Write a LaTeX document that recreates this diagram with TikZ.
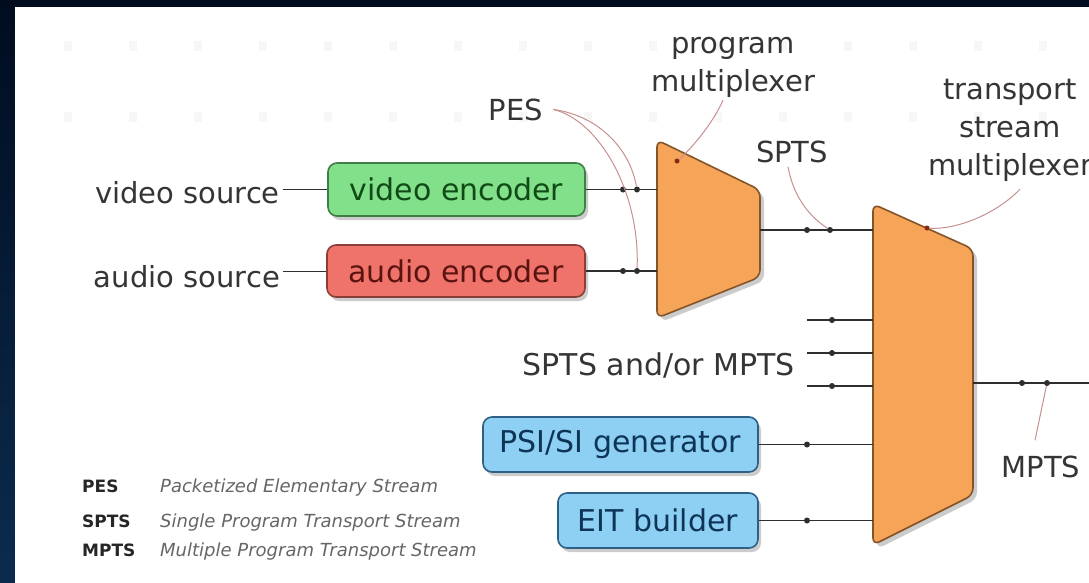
\documentclass[tikz,border=0pt]{standalone}
\usepackage{fontspec}
\setmainfont{DejaVu Sans}
\usetikzlibrary{shadows,calc}
\definecolor{navytop}{HTML}{010C1F}
\definecolor{navybot}{HTML}{0B2B4E}
\definecolor{txtgray}{HTML}{353535}
\definecolor{linegray}{HTML}{2E2E2E}
\definecolor{ptrpink}{HTML}{C79090}
\definecolor{gfill}{HTML}{82E08A}
\definecolor{gdraw}{HTML}{3F7F45}
\definecolor{gtext}{HTML}{124A17}
\definecolor{rfill}{HTML}{F0736B}
\definecolor{rdraw}{HTML}{8A3E38}
\definecolor{rtext}{HTML}{5A1410}
\definecolor{bfill}{HTML}{8ED0F4}
\definecolor{bdraw}{HTML}{2E5F84}
\definecolor{btext}{HTML}{0E3556}
\definecolor{ofill}{HTML}{F5A458}
\definecolor{odraw}{HTML}{85552A}
\definecolor{dotred}{HTML}{8A2A10}
\tikzset{
  txt/.style={text=txtgray, inner sep=0pt, font=\fontsize{29}{36}\selectfont},
  box/.style={draw, rounded corners=9pt, line width=1.6pt, minimum height=54pt,
    inner sep=0pt, font=\fontsize{30}{36}\selectfont,
    drop shadow={opacity=0.4, shadow xshift=3pt, shadow yshift=-4pt}},
  conn/.style={draw=linegray, line width=1.3pt},
  ptr/.style={draw=ptrpink, line width=1pt},
  dot/.style={circle, fill=linegray, inner sep=0pt, minimum size=6pt},
  mux/.style={fill=ofill, draw=odraw, line width=1.6pt, rounded corners=7pt,
    drop shadow={opacity=0.4, shadow xshift=4pt, shadow yshift=-4pt}},
  legab/.style={text=black!85, inner sep=0pt, anchor=base west, font=\fontsize{17}{20}\selectfont\bfseries},
  legde/.style={text=black!60, inner sep=0pt, anchor=base west, font=\fontsize{18}{20}\selectfont\itshape},
  bgmark/.style={fill=black!3},
}
\begin{document}
\begin{tikzpicture}[x=1pt,y=-1pt]
\useasboundingbox (0,0) rectangle (1089,582);
\shade[top color=navytop, bottom color=navybot] (0,0) rectangle (1089,582);
\fill[white] (15,7) rectangle (1090,583);
\clip (15,7) rectangle (1090,583);

% faint background grid
\foreach \gx in {68,133,...,1080} {
  \foreach \gy in {46,117} {
    \fill[bgmark] (\gx-4,\gy-5) rectangle (\gx+4,\gy+5);
  }
}

% sources and encoders
\node[txt, anchor=base east] (vsrc) at (280,203) {video source};
\node[txt, anchor=base east] (asrc) at (280,287) {audio source};
\node[box, fill=gfill, draw=gdraw, text=gtext, minimum width=257pt, minimum height=53pt] (venc) at (456.5,189.5) {video encoder};
\node[box, fill=rfill, draw=rdraw, text=rtext, minimum width=258pt, minimum height=52pt] (aenc) at (456,271) {audio encoder};
\node[box, fill=bfill, draw=bdraw, text=btext, minimum width=275pt, minimum height=55pt] (psi) at (620.5,444.5) {PSI/SI generator};
\node[box, fill=bfill, draw=bdraw, text=btext, minimum width=200pt, minimum height=55pt] (eit) at (658,520.5) {EIT builder};

\draw[draw=linegray, line width=1pt] ($(vsrc.east |- venc.west)+(3,0)$) -- (venc.west);
\draw[draw=linegray, line width=1pt] ($(asrc.east |- aenc.west)+(3,0)$) -- (aenc.west);

% program multiplexer
\path[mux] (657,140) -- (760,190) -- (760,277) -- (657,318) -- cycle;
\coordinate (pmv) at (657,189.5);
\coordinate (pma) at (657,271);
\coordinate (pmo) at (760,230);

% transport stream multiplexer
\path[mux] (873,204) -- (973,249) -- (973,495) -- (873,545) -- cycle;
\coordinate (tsspts) at (873,230);
\coordinate (tsi1) at (873,320);
\coordinate (tsi2) at (873,353);
\coordinate (tsi3) at (873,386);
\coordinate (tspsi) at (873,444.5);
\coordinate (tseit) at (873,520.5);
\coordinate (tso) at (973,383);

\coordinate (in1) at (807,320);
\coordinate (in2) at (807,353);
\coordinate (in3) at (807,386);
\coordinate (out) at (1089,383);

% connectors
\draw[conn] (venc.east) -- (pmv);
\draw[conn] (aenc.east) -- (pma);
\draw[conn] (pmo) -- (tsspts);
\draw[conn] (in1) -- (tsi1);
\draw[conn] (in2) -- (tsi2);
\draw[conn] (in3) -- (tsi3);
\draw[conn] (psi.east) -- (tspsi);
\draw[conn] (eit.east) -- (tseit);
\draw[conn] (tso) -- (out);

% dots
\node[dot] (dv1) at (623,189.5) {};
\node[dot] (dv2) at (637,189.5) {};
\node[dot] (da1) at (623,271) {};
\node[dot] (da2) at (637,271) {};
\node[dot] (ds1) at (807,230) {};
\node[dot] (ds2) at (830,230) {};
\node[dot] (di1) at (832,320) {};
\node[dot] (di2) at (832,353) {};
\node[dot] (di3) at (832,386) {};
\node[dot] (dpsi) at (807,444.5) {};
\node[dot] (deit) at (807,520.5) {};
\node[dot] (do1) at (1022,383) {};
\node[dot] (do2) at (1047,383) {};
\node[dot, fill=dotred, minimum size=5pt] (pmdot) at (677,161) {};
\node[dot, fill=dotred, minimum size=5pt] (tsdot) at (927,228) {};

% labels
\node[txt, anchor=base] (pm1) at (733,53) {program};
\node[txt, anchor=base] (pm2) at (733,91) {multiplexer};
\node[txt, anchor=base] (ts1) at (1010,99) {transport};
\node[txt, anchor=base] (ts2) at (1010,137) {stream};
\node[txt, anchor=base] (ts3) at (1010,175) {multiplexer};
\node[txt, anchor=base] (pes) at (516,120) {PES};
\node[txt, anchor=base] (spts) at (792,162) {SPTS};
\node[txt, anchor=base] (mpts) at (1041,477) {MPTS};
\node[txt, anchor=base east, font=\fontsize{30}{36}\selectfont] (spmp) at (795,375) {SPTS and/or MPTS};

% pointers
\draw[ptr] ([xshift=10pt]pes.east) .. controls (600,116) and (630,150) .. (dv2);
\draw[ptr] ([xshift=10pt]pes.east) .. controls (598,120) and (640,190) .. (da2);
\draw[ptr] ($(pm2.south)+(-10,3)$) .. controls (712,125) and (690,150) .. (pmdot);
\draw[ptr] ($(spts.south)+(-4,4)$) .. controls (794,200) and (812,218) .. (ds2);
\draw[ptr] ($(ts3.south)+(10,8)$) .. controls (995,215) and (955,230) .. (tsdot);
\draw[ptr] ($(mpts.north)+(-6,-15)$) -- (do2);

% legend
\node[legab] (lpes) at (82,492) {PES};
\node[legab] (lspts) at (82,527) {SPTS};
\node[legab] (lmpts) at (82,556) {MPTS};
\node[legde] (dpes) at (160,492) {Packetized Elementary Stream};
\node[legde] (dspts) at (160,527) {Single Program Transport Stream};
\node[legde] (dmpts) at (160,556) {Multiple Program Transport Stream};
\end{tikzpicture}
\end{document}
